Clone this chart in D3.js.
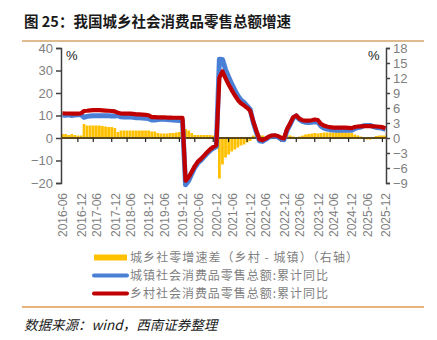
<!DOCTYPE html>
<html><head><meta charset="utf-8">
<script src="https://cdn.jsdelivr.net/npm/d3@7/dist/d3.min.js"></script>
<style>
html,body{margin:0;padding:0;background:#fff;}
svg{display:block;}
</style></head>
<body>
<svg id="c" width="437" height="340"></svg>
<script>
const categories = [
"2016-06","2016-07","2016-08","2016-09","2016-10","2016-11","2016-12",
"2017-02","2017-03","2017-04","2017-05","2017-06","2017-07","2017-08","2017-09","2017-10","2017-11","2017-12",
"2018-02","2018-03","2018-04","2018-05","2018-06","2018-07","2018-08","2018-09","2018-10","2018-11","2018-12",
"2019-02","2019-03","2019-04","2019-05","2019-06","2019-07","2019-08","2019-09","2019-10","2019-11","2019-12",
"2020-02","2020-03","2020-04","2020-05","2020-06","2020-07","2020-08","2020-09","2020-10","2020-11","2020-12",
"2021-02","2021-03","2021-04","2021-05","2021-06","2021-07","2021-08","2021-09","2021-10","2021-11","2021-12",
"2022-02","2022-03","2022-04","2022-05","2022-06","2022-07","2022-08","2022-09","2022-10","2022-11","2022-12",
"2023-02","2023-03","2023-04","2023-05","2023-06","2023-07","2023-08","2023-09","2023-10","2023-11","2023-12",
"2024-02","2024-03","2024-04","2024-05","2024-06","2024-07","2024-08","2024-09","2024-10","2024-11","2024-12",
"2025-02","2025-03","2025-04","2025-05","2025-06","2025-07","2025-08","2025-09","2025-10","2025-11","2025-12"
];

// 乡村社会消费品零售总额:累计同比 (%)
const rural = [
11.0,10.9,10.9,10.8,10.8,10.8,10.9,
12.0,12.1,12.3,12.4,12.4,12.4,12.3,12.2,12.1,12.0,11.8,
11.2,10.9,10.8,10.8,10.8,10.7,10.5,10.5,10.4,10.3,10.1,
9.3,9.3,9.2,9.2,9.2,9.1,9.1,9.0,9.0,9.0,9.0,
-19.0,-17.5,-15.0,-12.5,-10.5,-9.3,-7.8,-6.3,-5.0,-4.0,-3.2,
26.9,29.6,26.5,23.8,21.3,19.0,16.9,15.4,14.5,13.4,12.1,
7.5,3.3,-0.6,-1.0,-0.3,0.6,1.1,1.2,0.9,0.1,-0.2,
4.0,6.5,9.2,10.0,8.6,7.9,7.7,7.7,7.9,8.2,8.0,
6.3,5.5,5.1,4.8,4.6,4.6,4.6,4.6,4.6,4.5,4.4,
4.9,5.1,5.2,5.3,5.3,5.3,5.2,5.1,5.0,4.8,4.3
];

// 城镇社会消费品零售总额:累计同比 (%)
const urban = [
10.2,10.1,10.3,10.0,10.2,10.3,10.4,
9.2,9.6,9.8,9.9,9.9,9.9,9.9,9.9,9.9,9.8,9.8,
10.0,9.4,9.3,9.3,9.3,9.2,9.0,9.0,8.9,8.8,8.6,
8.0,8.0,8.2,8.3,8.3,8.2,8.1,8.0,7.9,7.8,7.7,
-20.8,-19.0,-16.0,-13.1,-11.1,-9.9,-8.4,-6.9,-5.6,-4.6,-3.8,
35.0,34.9,30.4,27.1,24.0,21.3,18.8,16.9,15.8,14.3,12.7,
7.0,2.7,-1.2,-1.5,-0.6,0.3,0.8,0.9,0.5,-0.4,-0.8,
3.4,6.0,8.9,9.8,8.3,7.4,7.0,6.9,7.0,7.2,7.1,
5.3,4.4,4.0,3.7,3.5,3.4,3.4,3.5,3.5,3.4,3.4,
4.2,4.6,4.9,5.5,5.6,5.6,5.1,4.7,4.5,4.3,3.8
];

// 城乡社零增速差（乡村 - 城镇）（右轴）, pp
const gap = [
0.8,0.8,0.6,0.8,0.6,0.5,0.5,
2.8,2.5,2.5,2.5,2.5,2.5,2.4,2.3,2.2,2.2,2.0,
1.2,1.5,1.5,1.5,1.5,1.5,1.5,1.5,1.5,1.5,1.5,
1.3,1.3,1.0,0.9,0.9,0.9,1.0,1.0,1.1,1.2,1.3,
1.8,1.5,1.0,0.6,0.6,0.6,0.6,0.6,0.6,0.5,0.5,
-8.1,-5.3,-3.9,-3.3,-2.7,-2.3,-1.9,-1.5,-1.3,-0.9,-0.6,
0.5,0.6,0.6,0.5,0.3,0.3,0.3,0.3,0.4,0.5,0.6,
0.6,0.5,0.3,0.2,0.3,0.5,0.7,0.8,0.9,1.0,0.9,
1.0,1.1,1.1,1.1,1.1,1.2,1.2,1.1,1.1,1.1,1.0,
0.7,0.5,0.3,-0.2,-0.3,-0.3,0.1,0.4,0.5,0.5,0.5
];

const xTickLabels = ["2016-06","2016-12","2017-06","2017-12","2018-06","2018-12","2019-06","2019-12",
"2020-06","2020-12","2021-06","2021-12","2022-06","2022-12","2023-06","2023-12","2024-06","2024-12","2025-06","2025-12"];
const leftTicks = [-20,-10,0,10,20,30,40];
const rightTicks = [-9,-6,-3,0,3,6,9,12,15,18];

const title = "图 25：我国城乡社会消费品零售总额增速";
const legendLabels = ["城乡社零增速差（乡村 - 城镇）（右轴）","城镇社会消费品零售总额:累计同比","乡村社会消费品零售总额:累计同比"];
const source = "数据来源：wind，西南证券整理";

const C = {bar:"#FFC000", blue:"#4A7FD6", red:"#C00000", axis:"#404040", zero:"#5a4a1e", txt:"#7f7f7f"};
const cjk = "'Noto Sans CJK SC','Noto Sans',sans-serif";
const lat = "'Liberation Sans',Arial,sans-serif";

const svg = d3.select("#c");
const L = 61, R = 386, T = 48, B = 183;

const x = d3.scalePoint().domain(categories).range([62.5, 385.5]);
const step = x.step();
const yL = d3.scaleLinear().domain([-20,40]).range([B,T]);
const yR = d3.scaleLinear().domain([-9,18]).range([B,T]);

// title & rules
svg.append("text").attr("x",24).attr("y",27).attr("font-family",cjk).attr("font-weight","bold")
  .attr("font-size",14.5).attr("fill","#1a1a1a").text(title);
svg.append("line").attr("x1",22).attr("x2",424).attr("y1",41).attr("y2",41).attr("stroke","#d3a466").attr("stroke-width",1.5);
svg.append("line").attr("x1",22).attr("x2",424).attr("y1",307).attr("y2",307).attr("stroke","#e39a4a").attr("stroke-width",1.5);
svg.append("text").attr("x",24).attr("y",330).attr("font-family",cjk).attr("font-style","italic")
  .attr("font-size",13.5).attr("fill","#1a1a1a").text(source);

// bars (right axis)
svg.append("g").selectAll("rect").data(categories).join("rect")
  .attr("x", (d)=> x(d) - step*0.45)
  .attr("width", step*0.9)
  .attr("y", (d,i)=> yR(Math.max(0,gap[i])))
  .attr("height", (d,i)=> Math.abs(yR(gap[i]) - yR(0)))
  .attr("fill", C.bar);

// left axis
const gl = svg.append("g").attr("transform",`translate(${L},0)`)
  .call(d3.axisLeft(yL).tickValues(leftTicks).tickSize(5).tickPadding(3).tickFormat(d3.format("d")));
gl.select(".domain").attr("stroke",C.axis).attr("stroke-width",1.5);
gl.selectAll(".tick line").attr("stroke",C.axis).attr("stroke-width",1.5);
gl.selectAll(".tick text").attr("font-family",lat).attr("font-size",13).attr("fill",C.txt);

// right axis
const gr = svg.append("g").attr("transform",`translate(${R},0)`)
  .call(d3.axisRight(yR).tickValues(rightTicks).tickSize(4).tickPadding(3).tickFormat(d3.format("d")));
gr.select(".domain").attr("stroke",C.axis).attr("stroke-width",1.5);
gr.selectAll(".tick line").attr("stroke",C.axis).attr("stroke-width",1.5);
gr.selectAll(".tick text").attr("font-family",lat).attr("font-size",13).attr("fill",C.txt);

// zero line (category axis)
svg.append("line").attr("x1",L).attr("x2",R).attr("y1",yL(0)).attr("y2",yL(0))
  .attr("stroke",C.zero).attr("stroke-width",2);
const tickCats = xTickLabels.map(l => categories[categories.indexOf(l)-1]).filter(Boolean);
svg.append("g").selectAll("line").data(tickCats).join("line")
  .attr("x1",d=>x(d)).attr("x2",d=>x(d)).attr("y1",yL(0)).attr("y2",yL(0)+4)
  .attr("stroke","#222").attr("stroke-width",1.2);

// x labels
svg.append("g").selectAll("text").data(xTickLabels).join("text")
  .attr("transform", d=>`translate(${x(d)+0.5},193) rotate(-90)`)
  .attr("text-anchor","end").attr("dy","0.36em")
  .attr("font-family",lat).attr("font-size",12).attr("fill",C.txt).text(d=>d);

// lines
const line = (arr)=> d3.line().x((d)=>x(d)).y((d,i)=>yL(arr[i]))(categories);
svg.append("path").attr("d",line(urban)).attr("fill","none").attr("stroke",C.blue).attr("stroke-width",5).attr("stroke-linejoin","round");
svg.append("path").attr("d",line(rural)).attr("fill","none").attr("stroke",C.red).attr("stroke-width",4.2).attr("stroke-linejoin","round");

// % labels
svg.append("text").attr("x",66).attr("y",60).attr("font-family",lat).attr("font-size",13).attr("fill","#1a1a1a").text("%");
svg.append("text").attr("x",368).attr("y",60).attr("font-family",lat).attr("font-size",13).attr("fill","#1a1a1a").text("%");

// legend
const rowY = [257.5, 275.5, 293.5];
const lg = svg.append("g");
lg.append("rect").attr("x",94).attr("y",rowY[0]-3).attr("width",33).attr("height",6).attr("fill",C.bar);
lg.append("line").attr("x1",94).attr("x2",127).attr("y1",rowY[1]).attr("y2",rowY[1]).attr("stroke",C.blue).attr("stroke-width",4).attr("stroke-linecap","round");
lg.append("line").attr("x1",94).attr("x2",127).attr("y1",rowY[2]).attr("y2",rowY[2]).attr("stroke",C.red).attr("stroke-width",4).attr("stroke-linecap","round");
lg.selectAll("text").data(legendLabels).join("text")
  .attr("x",130).attr("y",(d,i)=>rowY[i]).attr("dy","0.36em")
  .attr("font-family",cjk).attr("font-size",12).attr("textLength",(d,i)=>[228,198,198][i])
  .attr("lengthAdjust","spacing")
  .attr("fill",C.txt).text(d=>d);
</script>
</body></html>
